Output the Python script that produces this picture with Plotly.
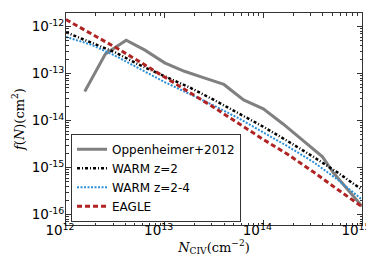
import plotly.graph_objects as go

# ---- data (log10 values) ----
opp_logN = [12.19, 12.40, 12.61, 12.80, 13.00, 13.20, 13.40, 13.60, 13.80, 14.00, 14.20, 14.40, 14.60, 14.71, 15.00]
opp_logf = [-13.38, -12.58, -12.29, -12.50, -12.77, -12.95, -13.09, -13.23, -13.56, -13.75, -14.07, -14.42, -14.77, -15.11, -15.82]

model_logN = [12.0, 12.25, 12.5, 12.75, 13.0, 13.25, 13.5, 13.75, 14.0, 14.25, 14.5, 14.75, 15.0]
warm2_logf = [-12.12, -12.33, -12.55, -12.82, -13.05, -13.29, -13.56, -13.84, -14.13, -14.44, -14.76, -15.10, -15.47]
warm24_logf = [-12.22, -12.38, -12.62, -12.90, -13.18, -13.43, -13.68, -13.95, -14.25, -14.55, -14.87, -15.25, -15.68]
eagle_logf = [-11.85, -12.14, -12.44, -12.75, -13.07, -13.39, -13.72, -14.06, -14.40, -14.72, -15.08, -15.46, -15.83]

x_tick_exp = [12, 13, 14, 15]
y_tick_exp = [-16, -15, -14, -13, -12]


def p10(vals):
    return [10 ** v for v in vals]


fig = go.Figure()
fig.add_trace(go.Scatter(x=p10(opp_logN), y=p10(opp_logf), mode="lines",
                         name="Oppenheimer+2012",
                         line=dict(color="#808080", width=3)))
fig.add_trace(go.Scatter(x=p10(model_logN), y=p10(warm2_logf), mode="lines",
                         name="WARM z=2",
                         line=dict(color="black", width=2.5, dash="3px,2px,1px,2px")))
fig.add_trace(go.Scatter(x=p10(model_logN), y=p10(warm24_logf), mode="lines",
                         name="WARM z=2-4",
                         line=dict(color="#2b8fd8", width=2, dash="2px,1.5px")))
fig.add_trace(go.Scatter(x=p10(model_logN), y=p10(eagle_logf), mode="lines",
                         name="EAGLE",
                         line=dict(color="#b02323", width=3, dash="5px,3px")))

minor_x = [m * 10 ** e for e in range(12, 15) for m in range(2, 10)]
minor_y = [m * 10 ** e for e in range(-17, -11) for m in range(2, 10)]

tickfont = dict(family="DejaVu Sans", size=13.5, color="black")
common = dict(type="log", showgrid=False, zeroline=False, showline=True,
              linecolor="#333333", linewidth=1, mirror="allticks",
              ticks="inside", ticklen=5, tickcolor="#333333", tickfont=tickfont)

fig.update_xaxes(**common,
                 range=[12, 15],
                 tickvals=[10 ** e for e in x_tick_exp],
                 ticktext=[f"10<sup>{e}</sup>" for e in x_tick_exp],
                 ticklabelstandoff=-7,
                 ticklabelshift=-6,
                 minor=dict(tickvals=minor_x, ticks="inside", ticklen=2.5, tickcolor="#333333"),
                 title=dict(text="<i>N</i><sub>CIV</sub>(cm<sup>−2</sup>)",
                            font=dict(family="DejaVu Serif", size=13, color="black"),
                            standoff=2))
fig.update_yaxes(**common,
                 range=[-16.22, -11.71],
                 tickvals=[10 ** e for e in y_tick_exp],
                 ticktext=[f"10<sup>{e}</sup>" for e in y_tick_exp],
                 ticklabelstandoff=-2,
                 minor=dict(tickvals=minor_y, ticks="inside", ticklen=2.5, tickcolor="#333333"),
                 title=dict(text="<i>f</i>(<i>N</i>)(cm<sup>2</sup>)",
                            font=dict(family="DejaVu Serif", size=13, color="black"),
                            standoff=4))

fig.update_layout(
    width=374, height=259,
    margin=dict(l=58, r=20, t=5, b=42),
    plot_bgcolor="white", paper_bgcolor="white",
    legend=dict(x=0.017, y=0.015, xanchor="left", yanchor="bottom",
                bgcolor="white", bordercolor="#333333", borderwidth=1,
                font=dict(family="DejaVu Sans", size=12, color="black"),
                tracegroupgap=0, itemwidth=30),
    showlegend=True,
)

fig.write_html("out.html")
